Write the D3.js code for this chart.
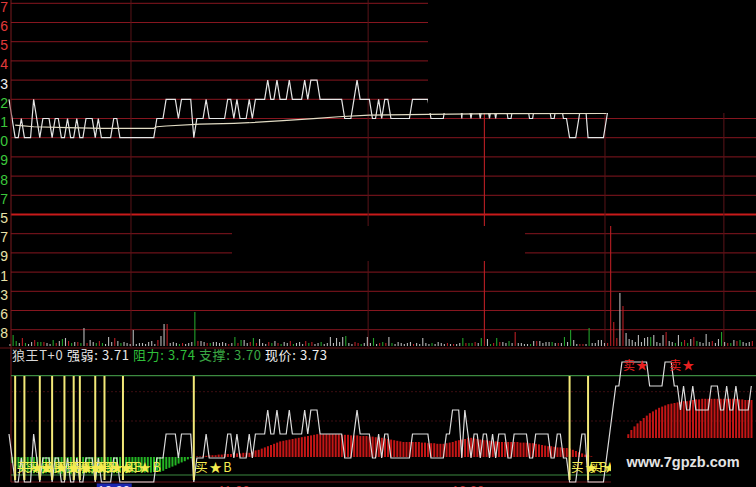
<!DOCTYPE html>
<html><head><meta charset="utf-8">
<script src="https://cdn.jsdelivr.net/npm/d3@7"></script>
<style>html,body{margin:0;padding:0;background:#000;overflow:hidden}</style>
</head><body>
<svg id="c" width="756" height="487"></svg>
<script>
// ---------- data ----------
const prices = [
3.72,3.71,3.70,3.70,3.71,3.70,3.70,3.70,3.72,3.71,
3.70,3.71,3.71,3.71,3.70,3.71,3.71,3.70,3.70,3.71,
3.70,3.70,3.71,3.70,3.70,3.71,3.71,3.71,3.70,3.71,
3.70,3.70,3.70,3.70,3.71,3.71,3.70,3.70,3.70,3.70,
3.70,3.70,3.70,3.70,3.70,3.70,3.70,3.70,3.71,3.71,
3.71,3.72,3.72,3.72,3.72,3.71,3.72,3.72,3.72,3.72,
3.70,3.71,3.71,3.71,3.72,3.71,3.71,3.71,3.71,3.71,
3.71,3.72,3.72,3.71,3.72,3.71,3.71,3.71,3.72,3.71,
3.72,3.72,3.72,3.72,3.73,3.72,3.72,3.73,3.72,3.72,
3.72,3.73,3.72,3.72,3.72,3.72,3.73,3.72,3.73,3.73,
3.73,3.72,3.72,3.72,3.72,3.72,3.72,3.72,3.72,3.71,
3.71,3.71,3.72,3.73,3.72,3.72,3.72,3.72,3.71,3.71,
3.72,3.71,3.72,3.72,3.71,3.71,3.71,3.71,3.71,3.71,
3.71,3.72,3.72,3.72,3.72,3.72,3.72,3.71,3.71,3.71,
3.71,3.71,3.72,3.72,3.73,3.73,3.73,3.71,3.73,3.72,
3.71,3.72,3.72,3.71,3.72,3.72,3.71,3.72,3.71,3.72,
3.72,3.72,3.71,3.71,3.72,3.72,3.72,3.72,3.72,3.71,
3.71,3.72,3.72,3.72,3.72,3.72,3.71,3.71,3.72,3.72,
3.71,3.71,3.70,3.70,3.70,3.71,3.72,3.72,3.70,3.70,
3.70,3.70,3.70,3.70,3.71,3.72,3.73,3.74,3.74,3.75,
3.75,3.75,3.75,3.75,3.75,3.75,3.75,3.75,3.74,3.74,
3.74,3.74,3.74,3.75,3.75,3.75,3.74,3.74,3.73,3.74,
3.73,3.73,3.74,3.73,3.73,3.73,3.73,3.73,3.74,3.74,
3.74,3.73,3.73,3.74,3.73,3.73,3.74,3.73,3.73,3.73,
3.73,3.74];

const avgIdx = [2,8,19,30,37,47,48,51,62,73,78,89,100,107,117,136,159,194];
const avgVal = [3.7066,3.7057,3.7052,3.7049,3.7049,3.7049,3.7057,3.7061,3.7071,3.7075,
                3.7078,3.7089,3.7101,3.7109,3.7118,3.7122,3.7125,3.7127];

const volumes = [
2,11,5,3,8,3,2,4,6,4,
4,4,3,2,6,3,5,7,8,5,
3,4,4,3,18,3,6,4,3,5,
3,2,9,4,8,5,3,4,3,2,
16,2,3,3,2,4,5,2,6,10,
22,22,3,4,3,2,3,2,3,4,
34,5,5,4,3,3,4,4,3,4,
3,2,3,9,3,6,6,3,4,8,
3,7,3,2,4,3,5,3,2,4,
3,5,2,3,4,2,5,3,4,2,
3,4,2,3,9,3,8,4,9,10,
3,2,4,3,2,3,9,3,8,2,
3,4,3,9,3,2,4,3,2,3,
4,2,3,2,8,3,2,3,2,4,
3,2,3,2,2,2,3,8,3,3,
3,4,3,8,260,7,2,3,8,4,
4,3,5,3,14,3,3,2,2,2,
5,5,5,3,4,4,4,3,3,3,
9,4,16,6,2,2,2,2,18,3,
3,6,6,3,3,120,24,8,53,40,
13,7,6,4,11,4,8,9,9,11,
4,3,11,14,5,4,3,11,4,6,
3,7,9,5,4,3,12,4,5,3,
7,14,4,3,3,6,5,6,4,3,
4,5];

const hist = [
0,-10,-15,-20,-24,
-25,-26,-27,-27,-26,-27,-28,-27,-26,-27,
-27,-28,-28,-27,-27,-28,-27,-27,-28,-28,
-27,-27,-28,-27,-27,-26,-27,-27,-26,-27,
-27,-26,-26,-27,-26,-26,-26,-25,-26,-26,
-25,-26,-25,-25,
-25,-23,-20,-18,-16,-14,-11,-9,-7,-4,-2,0,
1,1,2,2,3,3,3,4,4,5,
5,5,6,6,6,7,7,7,
9,11,12,14,16,18,20,22,24,26,27,
28,29,30,31,32,33,34,35,36,37,38,
38,38,38,38,38,38,38,37,37,37,
36,36,36,35,35,35,34,34,33,33,
32,31,30,29,28,27,26,25,25,25,
25,25,25,24,24,23,23,23,22,22,
22,23,24,25,27,28,29,30,32,32,
31,30,29,28,28,27,26,26,25,25,
25,25,25,25,25,24,24,24,23,23,
22,21,20,19,18,18,17,16,16,15,
15,14,12,10,8,6,4,3,1,0,
0,0,0,0,0,0,0,0,0,
30,38,45,51,56,60,65,69,73,76,
79,82,84,86,88,89,90,91,92,93,
93,94,95,96,96,97,97,97,97,97,
97,97,97,97,97,97,97,96,96,95,
95,95];

const buyIdx  = [2,5,10,14,18,21,23,28,31,37,60,182,188];
const sellIdx = [199,214];
const axisLabels = ["7","6","5","4","3","2","1","0","9","8","7","5","7","9","1","3","6","8"];
const gridIdx = [39.6,116.6,193.5,232.1];
const timeLabels = ["10:30","11:00","13:30"];
const timeIdx = [34,73,149];
const titleParts = ["狼王T+0","强弱: 3.71","阻力: 3.74","支撑: 3.70","现价: 3.73"];

// ---------- scales ----------
const svg = d3.select("#c");
svg.append("rect").attr("width",756).attr("height",487).attr("fill","#000");
const N = prices.length;
const xs = d3.scaleLinear().domain([0, N-1]).range([9, 751.3]);
const gy = d3.scaleLinear().domain([0, 17]).range([3.3, 329.7]);
const yP = d3.scaleLinear().domain([3.67, 3.77]).range([195.3, 3.3]);
const yV = d3.scaleLinear().domain([0, 132]).range([346, 214]);
const yB = d3.scaleLinear().domain([3.70, 3.75]).range([482, 362]);
const yH = d3.scaleLinear().domain([0, 100]).range([457, 397]);

// ---------- top panel ----------
const gTop = svg.append("g");
gTop.selectAll("line.h").data(d3.range(18)).join("line")
  .attr("x1",11).attr("x2",756)
  .attr("y1",k=>gy(k)).attr("y2",k=>gy(k))
  .attr("stroke",k=>k===11?"#c81a1a":"#86161f")
  .attr("stroke-width",k=>k===11?2:1);
gTop.selectAll("line.v").data(gridIdx).join("line")
  .attr("x1",d=>xs(d)).attr("x2",d=>xs(d)).attr("y1",0).attr("y2",347)
  .attr("stroke","#5a1418").attr("stroke-width",1);

// volume bars
gTop.selectAll("rect.vol").data(volumes).join("rect")
  .attr("x",(d,i)=>xs(i)+0.5).attr("width",1.1)
  .attr("y",d=>yV(d)).attr("height",d=>yV(0)-yV(d))
  .attr("fill",(d,i)=>{
    if(i===0) return "#b8b8b8";
    const c = prices[i]-prices[i-1];
    return c>0.0001?"#b81e24":(c<-0.0001?"#22a02a":"#b8b8b8");
  });

// price & average
gTop.append("path").datum(prices)
  .attr("d",d3.line().x((d,i)=>xs(i)).y(d=>yP(d)))
  .attr("fill","none").attr("stroke","#e6e6e6").attr("stroke-width",1.2);
gTop.append("path").datum(avgIdx.map((d,i)=>[d,avgVal[i]]))
  .attr("d",d3.line().x(d=>xs(d[0])).y(d=>yP(d[1])))
  .attr("fill","none").attr("stroke","#e2dcc4").attr("stroke-width",1.2);

// redaction patches present in the picture
gTop.append("rect").attr("x",428).attr("y",0).attr("width",328).attr("height",113).attr("fill","#000");
gTop.append("rect").attr("x",232).attr("y",226).attr("width",293).attr("height",35).attr("fill","#000");

// axis labels (only last digit visible)
gTop.selectAll("text.ax").data(axisLabels).join("text")
  .attr("x",8).attr("y",(d,k)=>gy(k)+8.5).attr("text-anchor","end")
  .attr("font-family","Liberation Sans, Arial, sans-serif").attr("font-size",14)
  .attr("fill",(d,k)=>k<4?"#e03a3a":(k===4?"#f0f0f0":(k<=10?"#3cc83c":"#e8e2a8")))
  .text(d=>d);

// frame lines
svg.append("line").attr("x1",11).attr("x2",11).attr("y1",0).attr("y2",482).attr("stroke","#7a1a1e");
svg.append("line").attr("x1",0).attr("x2",756).attr("y1",348).attr("y2",348).attr("stroke","#6a1216");

// ---------- bottom panel ----------
const gBot = svg.append("g");
const tx = [12,67,133,199,265];
const tc = ["#d8d8d8","#e8e8e8","#2fbf3a","#3aa844","#f0f0f0"];
gBot.selectAll("text.title").data(titleParts).join("text")
  .attr("x",(d,i)=>tx[i]).attr("y",360)
  .attr("font-family","Noto Sans CJK SC, sans-serif").attr("font-size",13)
  .attr("letter-spacing",0.6)
  .attr("fill",(d,i)=>tc[i]).text(d=>d);

gBot.append("line").attr("x1",11).attr("x2",756).attr("y1",375.7).attr("y2",375.7).attr("stroke","#3c8a40").attr("stroke-width",1.2);
gBot.append("line").attr("x1",11).attr("x2",756).attr("y1",391.7).attr("y2",391.7).attr("stroke","#3e0e12").attr("stroke-dasharray","2,2");
gBot.append("line").attr("x1",11).attr("x2",756).attr("y1",421).attr("y2",421).attr("stroke","#3e0e12").attr("stroke-dasharray","2,2");
gBot.append("line").attr("x1",11).attr("x2",756).attr("y1",475).attr("y2",475).attr("stroke","#3c8a40").attr("stroke-width",1.2);
gBot.append("line").attr("x1",11).attr("x2",756).attr("y1",482).attr("y2",482).attr("stroke","#6a1216").attr("stroke-width",1.2);

// histogram
gBot.selectAll("rect.h").data(hist).join("rect")
  .attr("x",(d,i)=>xs(i)-0.8).attr("width",2)
  .attr("y",d=>Math.min(yH(d),yH(0))).attr("height",d=>Math.abs(yH(d)-yH(0)))
  .attr("fill",d=>d>=0?"#c41616":"#24b424");

// price line in lower scale
gBot.append("path").datum(prices)
  .attr("d",d3.line().x((d,i)=>xs(i)).y(d=>yB(d)))
  .attr("fill","none").attr("stroke","#dcdcdc").attr("stroke-width",1.2);

// buy signals
gBot.selectAll("line.buy").data(buyIdx).join("line")
  .attr("x1",d=>xs(d)).attr("x2",d=>xs(d)).attr("y1",376).attr("y2",480)
  .attr("stroke","#f2e878").attr("stroke-width",2);
gBot.selectAll("text.buy").data(buyIdx).join("text")
  .attr("x",d=>xs(d)+1.5).attr("y",472)
  .attr("font-family","Noto Sans CJK SC, sans-serif").attr("font-size",12.5)
  .attr("letter-spacing",1.5)
  .attr("fill","#f4ec50").text("买★B");

// sell signals
gBot.selectAll("text.sell").data(sellIdx).join("text")
  .attr("x",d=>xs(d)+1).attr("y",370)
  .attr("font-family","Noto Sans CJK SC, sans-serif").attr("font-size",12)
  .attr("letter-spacing",1)
  .attr("fill","#e82020").text("卖★");

// time labels (cut by bottom edge, as in the picture)
gBot.append("rect").attr("x",xs(timeIdx[0])-17).attr("y",483.5).attr("width",35).attr("height",12).attr("fill","#1c26b0");
gBot.selectAll("text.t").data(timeLabels).join("text")
  .attr("x",(d,i)=>xs(timeIdx[i])).attr("y",495).attr("text-anchor","middle")
  .attr("font-family","Liberation Sans, Arial, sans-serif").attr("font-size",13)
  .attr("fill",(d,i)=>i===0?"#dfe4ff":"#c02828").text(d=>d);

// watermark
gBot.append("rect").attr("x",611).attr("y",438).attr("width",145).attr("height",49).attr("fill","#000");
gBot.append("text").attr("x",683).attr("y",467).attr("text-anchor","middle")
  .attr("font-family","Liberation Sans, Arial, sans-serif").attr("font-size",14.5)
  .attr("font-weight","bold").attr("fill","#e4e4e4").text("www.7gpzb.com");
</script>
</body></html>
